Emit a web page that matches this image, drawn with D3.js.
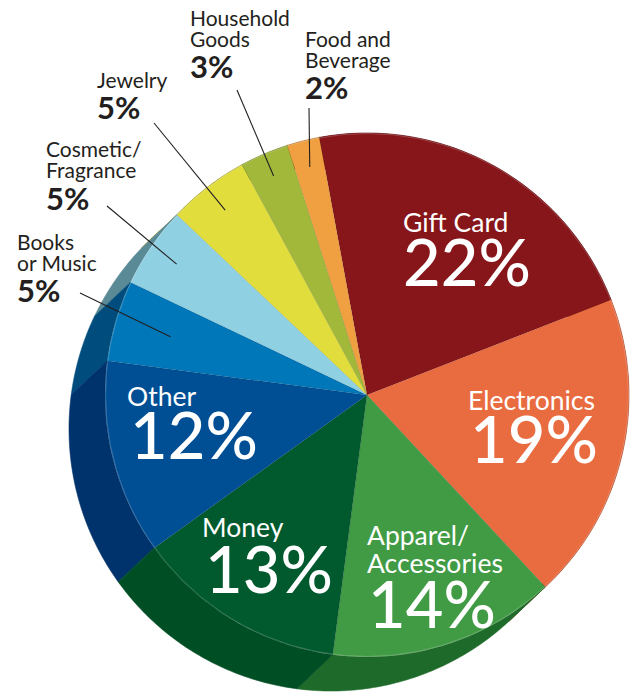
<!DOCTYPE html>
<html>
<head>
<meta charset="utf-8">
<script src="https://cdn.jsdelivr.net/npm/d3@7"></script>
<style>
  html, body { margin: 0; padding: 0; background: #ffffff; }
  svg { display: block; }
</style>
</head>
<body>
<svg id="chart" width="636" height="694"></svg>
<script>
// ---------- data ----------
const categories = ["Gift Card", "Electronics", "Apparel/Accessories", "Money", "Other",
                    "Books or Music", "Cosmetic/Fragrance", "Jewelry", "Household Goods", "Food and Beverage"];
const values = [22, 19, 14, 13, 12, 5, 5, 5, 3, 2];
const labelLines = [["Gift Card"], ["Electronics"], ["Apparel/", "Accessories"], ["Money"], ["Other"],
                    ["Books", "or Music"], ["Cosmetic/", "Fragrance"], ["Jewelry"], ["Household", "Goods"], ["Food and", "Beverage"]];
const topColors = ["#87161a", "#e96b40", "#419b45", "#005a2e", "#004f95",
                   "#0077b8", "#8fd0e2", "#e1dd3d", "#a1b83a", "#f0a040"];
const sideColors = ["#5e0e12", "#b04a2a", "#1e6a2a", "#004e24", "#00326b",
                    "#004c7c", "#5a8a96", "#9e9b2a", "#6f8228", "#b0702c"];

// ---------- layout ----------
const cx = 367, cy = 395, R = 262;
const offset = [-36, 34];           // extrusion of the pie's side
const startDeg = -10.5;

// inside labels: x, name baseline, pct baseline
const insideLayout = {
  0: {x: 403, y: 232, px: 403, py: 286},
  1: {x: 468, y: 410, px: 470, py: 463},
  2: {x: 367, y: 545, px: 368, py: 628},
  3: {x: 202, y: 537, px: 205, py: 593},
  4: {x: 127, y: 406, px: 130, py: 459}
};
// outside labels: x, first baseline, pct baseline, leader outer end, leader inner radius
const outsideLayout = {
  5: {x: 17,  y: 250, py: 302, lx: 80,  ly: 293, lr: 205},
  6: {x: 46,  y: 157, py: 210, lx: 107, ly: 206, lr: 231},
  7: {x: 97,  y: 88,  py: 119, lx: 154, ly: 123, lr: 233},
  8: {x: 190, y: 26,  py: 78,  lx: 237, ly: 90,  lr: 238},
  9: {x: 305, y: 47,  py: 99,  lx: 309, ly: 108, lr: 235}
};

const svg = d3.select("#chart");
const FONT = "Lato, 'Open Sans', sans-serif";

const startA = startDeg * Math.PI / 180;
const pie = d3.pie().sort(null).value(d => d.v).startAngle(startA).endAngle(startA + 2 * Math.PI);
const data = pie(values.map((v, i) => ({v, i})));

const pt = (a, r) => [r * Math.sin(a), -r * Math.cos(a)];

// ---------- sides ----------
const vx = offset[0], vy = offset[1];
const sides = data.map(d => {
  const n = 60;
  const top = d3.range(n + 1).map(k => {
    const a = d.startAngle + (d.endAngle - d.startAngle) * k / n;
    return pt(a, R);
  });
  const bottom = top.slice().reverse().map(p => [p[0] + vx, p[1] + vy]);
  const mid = (d.startAngle + d.endAngle) / 2;
  const m = pt(mid, 1);
  return {d, pts: top.concat(bottom), facing: m[0] * vx + m[1] * vy};
}).sort((a, b) => a.facing - b.facing);

const g = svg.append("g").attr("transform", `translate(${cx},${cy})`);
g.selectAll("path.side").data(sides).join("path")
  .attr("class", "side")
  .attr("d", s => d3.line()(s.pts) + "Z")
  .attr("fill", s => sideColors[s.d.data.i])
  .attr("stroke", s => sideColors[s.d.data.i])
  .attr("stroke-width", 0.6);

// ---------- top face ----------
const arc = d3.arc().innerRadius(0).outerRadius(R);
g.selectAll("path.slice").data(data).join("path")
  .attr("class", "slice")
  .attr("d", arc)
  .attr("fill", d => topColors[d.data.i])
  .attr("stroke", "rgba(0,0,0,0.12)")
  .attr("stroke-width", 0.6);

// subtle rim highlight
g.append("circle").attr("r", R - 0.5).attr("fill", "none")
  .attr("stroke", "rgba(255,255,255,0.25)").attr("stroke-width", 0.8);

// ---------- inside labels (one text element per label) ----------
Object.keys(insideLayout).forEach(k => {
  const i = +k, L = insideLayout[k];
  const t = svg.append("text").attr("font-family", FONT).attr("fill", "#ffffff");
  labelLines[i].forEach((line, j) => {
    t.append("tspan").attr("x", L.x).attr("y", L.y + j * 28)
      .attr("font-size", 26.5).attr("font-weight", 400).text(line);
  });
  t.append("tspan").attr("x", L.px).attr("y", L.py)
    .attr("font-size", 65).attr("font-weight", 500).text(values[i] + "%");
});

// ---------- outside labels with leaders ----------
Object.keys(outsideLayout).forEach(k => {
  const i = +k, L = outsideLayout[k];
  const d = data[i];
  const mid = (d.startAngle + d.endAngle) / 2;
  const p = pt(mid, L.lr);
  svg.append("line")
    .attr("x1", L.lx).attr("y1", L.ly)
    .attr("x2", cx + p[0]).attr("y2", cy + p[1])
    .attr("stroke", "#231f20").attr("stroke-width", 1.1);
  const t = svg.append("text").attr("font-family", FONT).attr("fill", "#231f20");
  labelLines[i].forEach((line, j) => {
    t.append("tspan").attr("x", L.x).attr("y", L.y + j * 21)
      .attr("font-size", 21).attr("font-weight", 400).text(line);
  });
  t.append("tspan").attr("x", L.x).attr("y", L.py)
    .attr("font-size", 31).attr("font-weight", 700).text(values[i] + "%");
});
</script>
</body>
</html>
